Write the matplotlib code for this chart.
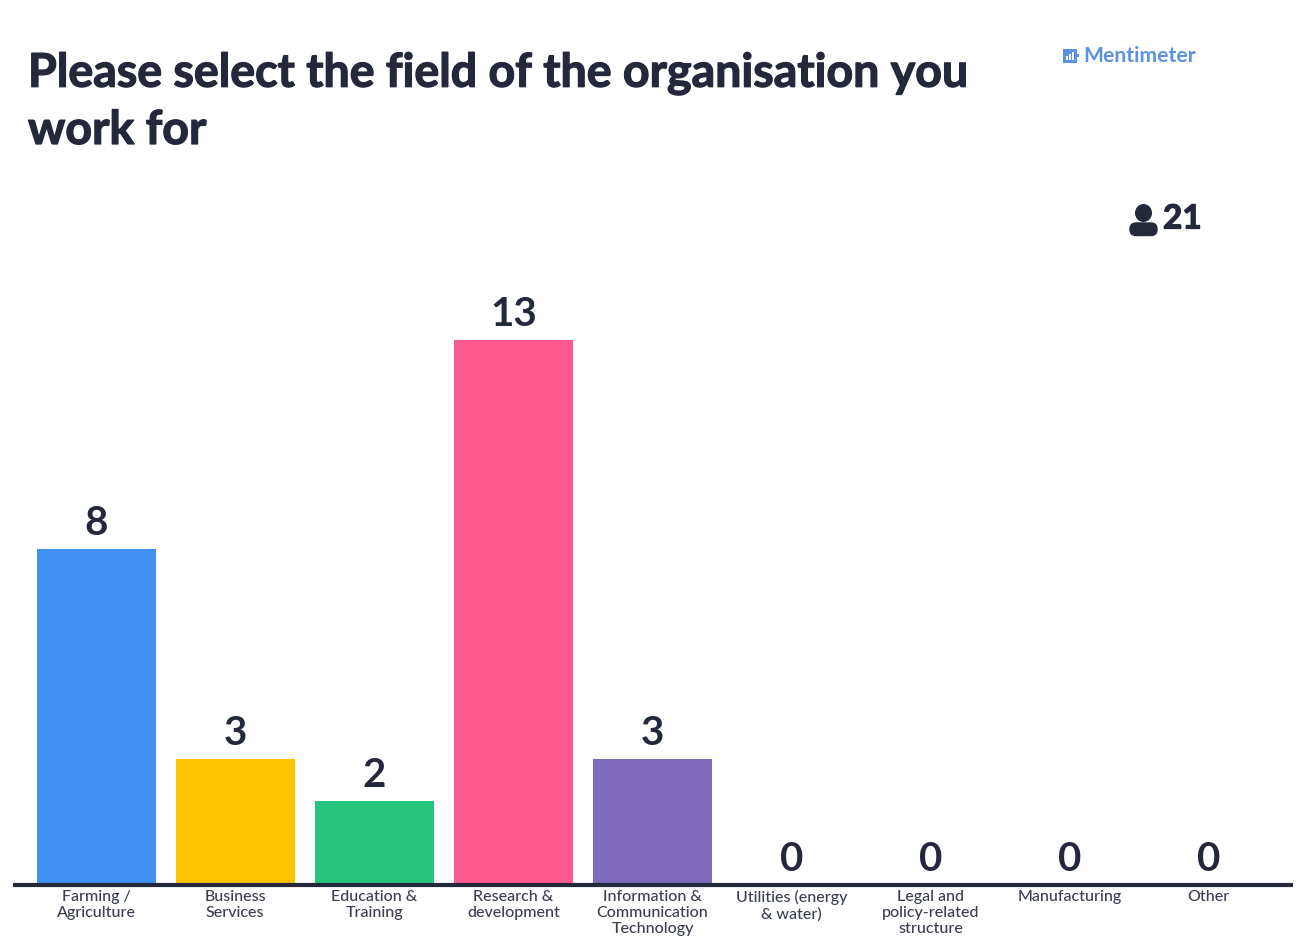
import matplotlib
matplotlib.use('Agg')
import matplotlib.pyplot as plt
import matplotlib.patheffects as pe
from matplotlib.patches import Ellipse, FancyBboxPatch, Rectangle

categories = ['Farming /\nAgriculture', 'Business\nServices', 'Education &\nTraining',
              'Research &\ndevelopment', 'Information &\nCommunication\nTechnology',
              'Utilities (energy\n& water)', 'Legal and\npolicy-related\nstructure',
              'Manufacturing', 'Other']
votes = [8, 3, 2, 13, 3, 0, 0, 0, 0]
colors = ['#4192f0', '#ffc300', '#28c37e', '#ff5a8f', '#7f6bbd',
          '#7f6bbd', '#7f6bbd', '#7f6bbd', '#7f6bbd']
question = 'Please select the field of the organisation you\nwork for'
brand = 'Mentimeter'
respondents = 21

W, H = 1298, 936
INK = '#23283a'
BRAND = '#5b93e0'

plt.rcParams['font.family'] = ['Lato', 'DejaVu Sans']

fig = plt.figure(figsize=(W / 100, H / 100), dpi=100, facecolor='white')

# overlay in pixel coords for the header, logo and person icon
top = fig.add_axes([0, 0, 1, 1])
top.set_xlim(0, W)
top.set_ylim(H, 0)
top.axis('off')

# thin outline thickens the heading strokes
heavy = [pe.withStroke(linewidth=0.9, foreground=INK)]
line1, line2 = question.split('\n')
top.text(28, 73, line1, fontsize=33.5, fontweight='bold', color=INK, va='center', ha='left', path_effects=heavy)
top.text(28, 130, line2, fontsize=33.5, fontweight='bold', color=INK, va='center', ha='left', path_effects=heavy)

top.text(1083, 56, brand, fontsize=15.2, fontweight='bold', color=BRAND, va='center', ha='left')
top.add_patch(Rectangle((1063, 48.5), 14, 14, fc=BRAND, ec='none'))
top.add_patch(Rectangle((1077, 54), 1.5, 3, fc=BRAND, ec='none'))
for x0, h0 in zip((1066, 1069, 1072), (3.5, 5.5, 7.5)):
    top.add_patch(Rectangle((x0, 59.5 - h0), 1.6, h0, fc='white', ec='none'))

top.add_patch(Ellipse((1143.5, 213), 17, 18, fc=INK, ec='none'))
top.add_patch(FancyBboxPatch((1130, 223), 27, 12.5, boxstyle='round,pad=0,rounding_size=6',
                             fc=INK, ec=INK, lw=1))
top.text(1163, 219, str(respondents), fontsize=24, fontweight='bold', color=INK, va='center', ha='left',
         path_effects=heavy)

# bars, 139 px apart with the baseline at y=884
ax = fig.add_axes([13 / W, (H - 884.5) / H, (1293 - 13) / W, 584.5 / H])
ax.patch.set_alpha(0)
xs = list(range(len(votes)))
ax.bar(xs, votes, width=0.855, color=colors)
for x, v in zip(xs, votes):
    ax.annotate(str(v), (x, v), xytext=(0, 5), textcoords='offset points',
                ha='center', va='bottom', fontsize=29, fontweight='bold', color=INK)
ax.set_xlim(-0.597, 8.605)
ax.set_ylim(0, 13.95)
ax.set_yticks([])
ax.set_xticks(xs)
ax.set_xticklabels(categories, fontsize=11.5, fontweight='medium', color='#3a3f4f', linespacing=1.16)
ax.tick_params(axis='x', length=0, pad=4.2)
for s in ['top', 'left', 'right']:
    ax.spines[s].set_visible(False)
ax.spines['bottom'].set_linewidth(3)
ax.spines['bottom'].set_color(INK)
ax.spines['bottom'].set_capstyle('butt')

fig.savefig('out.png', dpi=100)
